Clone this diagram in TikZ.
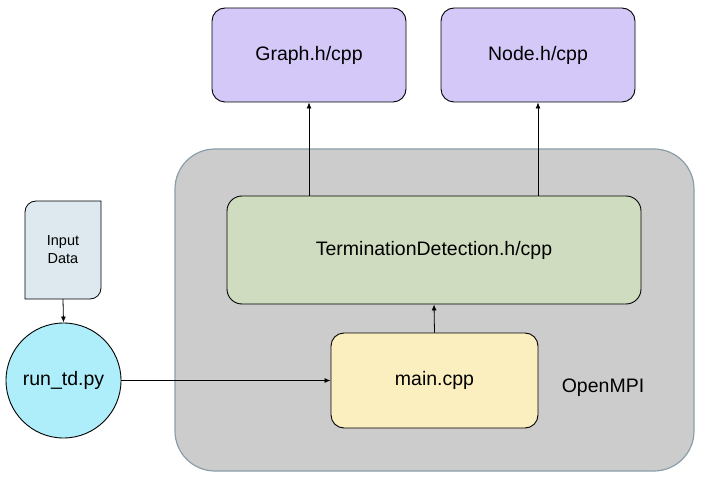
\documentclass[tikz,border=0pt]{standalone}
\usepackage{fontspec}
\setmainfont{Liberation Sans}
\usetikzlibrary{arrows.meta}
\definecolor{lav}{HTML}{D4C8F8}
\definecolor{tdgreen}{HTML}{D0DCBF}
\definecolor{mainy}{HTML}{FCEFBF}
\definecolor{contf}{HTML}{CCCCCC}
\definecolor{contd}{HTML}{8A9EA8}
\definecolor{inpf}{HTML}{DDE9EE}
\definecolor{cyanf}{HTML}{AEEEFB}
\tikzset{
  box/.style={draw=black, line width=0.9pt, rounded corners=13pt, inner sep=0pt, font=\fontsize{19.5}{22}\selectfont},
  conn/.style={line width=0.8pt, -{Latex[length=6pt,width=5pt]}},
}
\begin{document}
\begin{tikzpicture}[x=1pt,y=-1pt]
\useasboundingbox (0,0) rectangle (709,478);
% container
\draw[fill=contf, draw=contd, line width=1.2pt, rounded corners=40pt] (175,149) rectangle (694,471);
\node[font=\fontsize{19.5}{22}\selectfont] (ompi) at (603,388) {OpenMPI};
% top boxes
\node[box, fill=lav, minimum width=194pt, minimum height=94pt] (graph) at (309,55) {Graph.h/cpp};
\node[box, fill=lav, minimum width=194pt, minimum height=94pt] (nodeh) at (538,55) {Node.h/cpp};
% TD
\node[box, fill=tdgreen, minimum width=414pt, minimum height=108pt, rounded corners=15pt] (td) at (434,250) {TerminationDetection.h/cpp};
% main
\node[box, fill=mainy, minimum width=207pt, minimum height=95pt] (main) at (434.5,380.5) {main.cpp};
% input data (rounded top-left and bottom-right corners)
\draw[fill=inpf, line width=0.8pt] (25,299) -- (25,212) .. controls (25,205.9) and (29.9,201) .. (36,201) -- (101,201) -- (101,288) .. controls (101,294.1) and (96.1,299) .. (90,299) -- cycle;
\node[font=\fontsize{14.5}{18}\selectfont, align=center] (inp) at (63,250) {Input\\Data};
\coordinate (inpb) at (63,299);
% circle
\node[draw=black, line width=0.9pt, fill=cyanf, circle, minimum size=115pt, inner sep=0pt, font=\fontsize{19.5}{22}\selectfont] (run) at (63.5,380.5) {run\_td.py};
% connectors
\draw[conn] (inpb) -- (run.north);
\draw[conn] (run.east) -- (main.west);
\draw[conn] (main.north) -- (td.south);
\draw[conn] (td.north -| graph.south) -- (graph.south);
\draw[conn] (td.north -| nodeh.south) -- (nodeh.south);
\end{tikzpicture}
\end{document}
